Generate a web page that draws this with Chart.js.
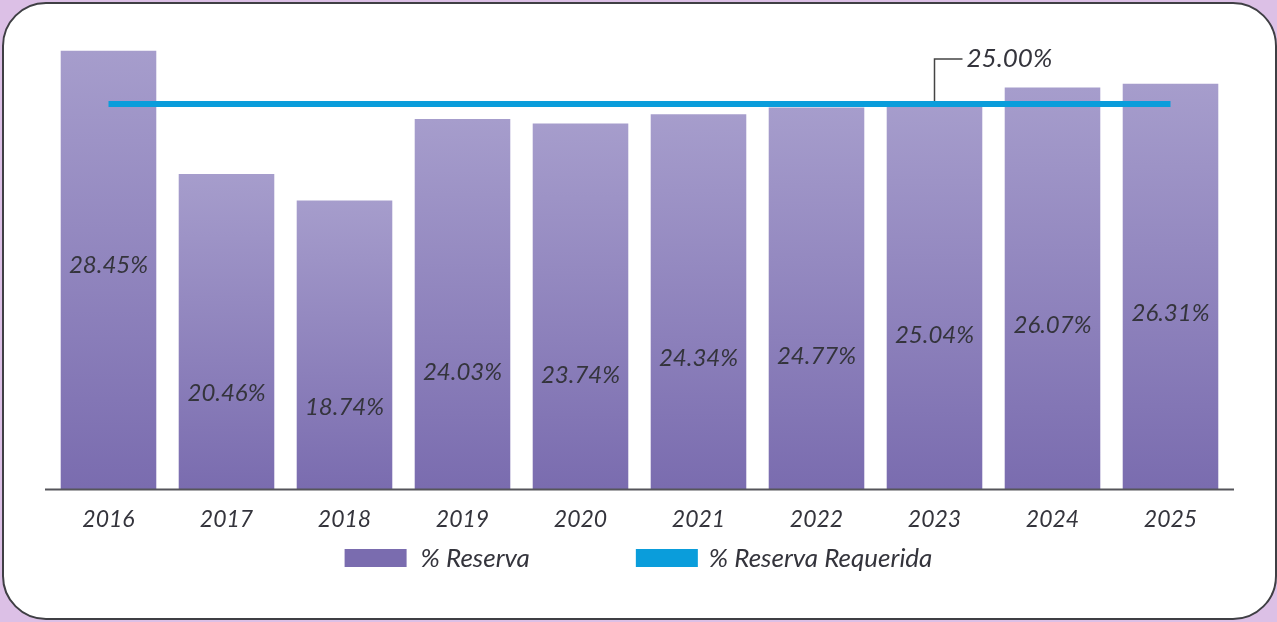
<!DOCTYPE html>
<html>
<head>
<meta charset="utf-8">
<script src="https://cdn.jsdelivr.net/npm/chart.js@4.4.1/dist/chart.umd.min.js"></script>
<style>
  html, body { margin: 0; padding: 0; background: #dcc0e6; }
  body { width: 1277px; height: 622px; position: relative; overflow: hidden; }
  .panel {
    position: absolute; left: 2px; top: 2px; width: 1275px; height: 618px;
    box-sizing: border-box; background: #fff;
    border: 2px solid #3f3f44; border-radius: 44px;
  }
  #chart { position: absolute; left: 0; top: 0; }
</style>
</head>
<body>
<div class="panel"></div>
<canvas id="chart" width="1277" height="622"></canvas>
<script>
const years = ["2016", "2017", "2018", "2019", "2020", "2021", "2022", "2023", "2024", "2025"];
const reserva = [28.45, 20.46, 18.74, 24.03, 23.74, 24.34, 24.77, 25.04, 26.07, 26.31];
const requerida = [25, 25, 25, 25, 25, 25, 25, 25, 25, 25];
// height (in % units) where each value label sits inside its bar
const labelLevels = [14.5, 6.2, 5.3, 7.6, 7.4, 8.5, 8.6, 10.0, 10.6, 11.4];
const requeridaLabel = "25.00%";
const requeridaLabelAt = 7;

const FONT = "Lato, 'Open Sans', sans-serif";
const PURPLE_TOP = "#a69dcc";
const PURPLE_BOTTOM = "#7a6caf";
const BLUE = "#0a9ddb";
const TEXT = "#34343c";

const valueLabels = {
  id: "valueLabels",
  afterDatasetsDraw(chart) {
    const ctx = chart.ctx;
    const y = chart.scales.y;
    const meta = chart.getDatasetMeta(1);
    ctx.save();
    ctx.font = "italic 400 24px " + FONT;
    ctx.fillStyle = TEXT;
    ctx.textAlign = "center";
    ctx.textBaseline = "middle";
    meta.data.forEach((bar, i) => {
      ctx.fillText(reserva[i].toFixed(2) + "%", bar.x, y.getPixelForValue(labelLevels[i]));
    });
    ctx.restore();
  }
};

const requiredNote = {
  id: "requiredNote",
  afterDatasetsDraw(chart) {
    const ctx = chart.ctx;
    const px = chart.scales.x.getPixelForValue(requeridaLabelAt);
    const py = chart.scales.y.getPixelForValue(requerida[requeridaLabelAt]);
    ctx.save();
    ctx.strokeStyle = "#444";
    ctx.lineWidth = 1.5;
    ctx.beginPath();
    ctx.moveTo(px, py - 3);
    ctx.lineTo(px, py - 45);
    ctx.lineTo(px + 28, py - 45);
    ctx.stroke();
    ctx.font = "italic 400 26px " + FONT;
    ctx.fillStyle = TEXT;
    ctx.textAlign = "left";
    ctx.textBaseline = "alphabetic";
    ctx.fillText(requeridaLabel, px + 32, py - 37);
    ctx.restore();
  }
};

const baseLine = {
  id: "baseLine",
  afterDatasetsDraw(chart) {
    const { ctx, chartArea } = chart;
    ctx.save();
    ctx.strokeStyle = "#55555a";
    ctx.lineWidth = 2;
    ctx.beginPath();
    ctx.moveTo(chartArea.left - 4.5, chartArea.bottom + 0.5);
    ctx.lineTo(chartArea.right + 4.5, chartArea.bottom + 0.5);
    ctx.stroke();
    ctx.restore();
  }
};

const bottomLegend = {
  id: "bottomLegend",
  afterDraw(chart) {
    const ctx = chart.ctx;
    const items = [
      { text: chart.data.datasets[1].label, color: PURPLE_BOTTOM, gap: 14 },
      { text: chart.data.datasets[0].label, color: BLUE, gap: 11 }
    ];
    const boxW = 62, boxH = 18, spacing = 106, cy = 558;
    ctx.save();
    ctx.font = "italic 400 26px " + FONT;
    const widths = items.map(it => boxW + it.gap + ctx.measureText(it.text).width);
    const total = widths[0] + spacing + widths[1];
    let x = chart.width / 2 - total / 2;
    ctx.textAlign = "left";
    ctx.textBaseline = "middle";
    items.forEach((it, i) => {
      ctx.fillStyle = it.color;
      ctx.fillRect(x, cy - boxH / 2, boxW, boxH);
      ctx.fillStyle = TEXT;
      ctx.fillText(it.text, x + boxW + it.gap, cy + 1);
      x += widths[i] + spacing;
    });
    ctx.restore();
  }
};

new Chart(document.getElementById("chart"), {
  data: {
    labels: years,
    datasets: [
      {
        type: "line",
        label: "% Reserva Requerida",
        data: requerida,
        borderColor: BLUE,
        borderWidth: 6,
        borderCapStyle: "butt",
        pointRadius: 0,
        tension: 0,
        order: 0
      },
      {
        type: "bar",
        label: "% Reserva",
        data: reserva,
        backgroundColor(c) {
          const chart = c.chart;
          if (!chart.chartArea || c.type !== "data") return PURPLE_BOTTOM;
          const y = chart.scales.y;
          const g = chart.ctx.createLinearGradient(0, y.getPixelForValue(c.raw), 0, y.getPixelForValue(0));
          g.addColorStop(0, PURPLE_TOP);
          g.addColorStop(1, PURPLE_BOTTOM);
          return g;
        },
        barPercentage: 0.81,
        categoryPercentage: 1,
        order: 1
      }
    ]
  },
  options: {
    responsive: false,
    animation: false,
    devicePixelRatio: 1,
    layout: { padding: { left: 49.5, right: 47.5, top: 27, bottom: 0 } },
    plugins: { legend: { display: false }, tooltip: { enabled: false } },
    scales: {
      x: {
        grid: { display: false },
        border: { display: false },
        ticks: {
          color: TEXT,
          font: { family: FONT, size: 23, style: "italic", weight: 400 },
          padding: 9,
          maxRotation: 0,
          autoSkip: false
        },
        afterFit(scale) { scale.height = 133; }
      },
      y: { display: false, min: 0, max: 30 }
    }
  },
  plugins: [valueLabels, requiredNote, baseLine, bottomLegend]
});
</script>
</body>
</html>
